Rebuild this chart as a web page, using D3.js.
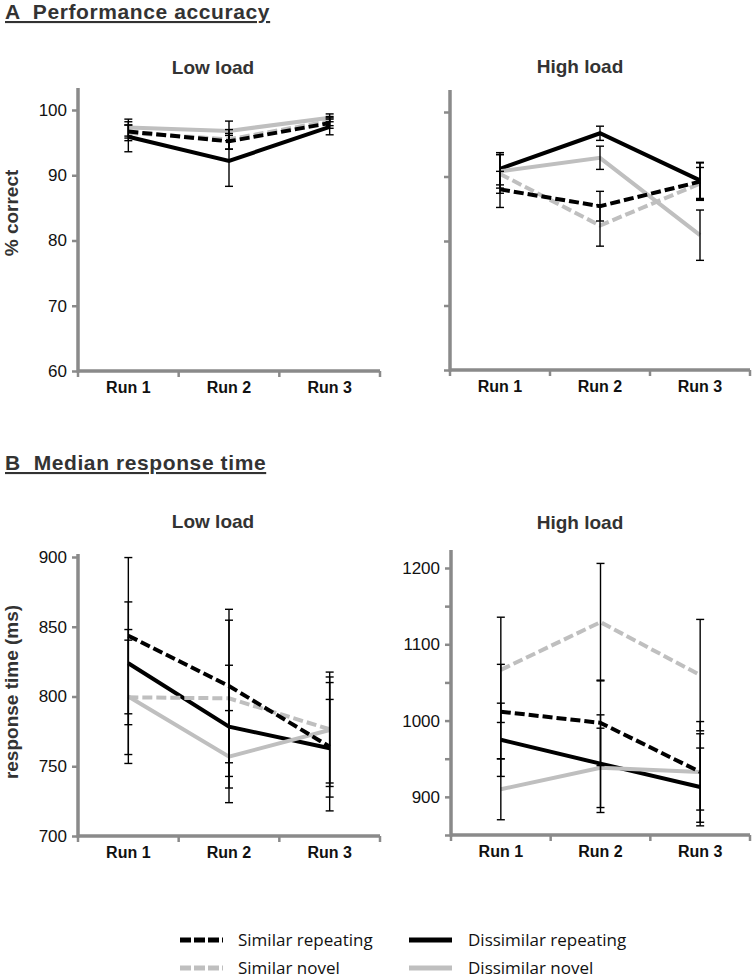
<!DOCTYPE html>
<meta charset="utf-8">
<script src="https://d3js.org/d3.v7.min.js"></script>
<style>
  body { margin: 0; background: #fff; }
</style>
<div id="chart"></div>
<script>
// Categories and series (rows of every data array follow seriesNames)
var runs = ["Run 1", "Run 2", "Run 3"];
var seriesNames = ["Similar repeating", "Similar novel", "Dissimilar repeating", "Dissimilar novel"];

// A  Performance accuracy (% correct), mean and error
var accLow     = [[96.7, 95.2, 98.0], [96.5, 95.5, 98.3], [95.9, 92.2, 97.4], [97.3, 96.8, 98.8]];
var accLowErr  = [[1.0, 1.2, 0.8], [1.2, 1.5, 0.7], [2.3, 3.9, 1.2], [1.3, 1.5, 0.6]];
var accHigh    = [[88.0, 85.4, 89.2], [90.4, 82.4, 88.9], [91.2, 96.7, 89.4], [90.8, 92.9, 80.9]];
var accHighErr = [[2.8, 2.3, 2.9], [3.0, 3.2, 2.5], [2.5, 1.1, 2.8], [2.6, 1.8, 3.9]];

// B  Median response time (ms), mean and error
var rtLow     = [[843.6, 807.5, 764], [799.4, 798.7, 776.5], [823.8, 778.4, 762.9], [800, 756.9, 776]];
var rtLowErr  = [[56, 55, 46], [41, 56, 41], [44, 44, 35], [48, 33, 38]];
var rtHigh    = [[1011.7, 997, 932.7], [1066.5, 1129, 1059.6], [974.8, 943.5, 913], [910, 938, 932.7]];
var rtHighErr = [[62, 56, 66], [69, 77, 73], [48, 64, 51], [40, 52, 50]];

// Tick values and labels
var accTicks = [60, 70, 80, 90, 100];
var rtLowTicks = [700, 750, 800, 850, 900];
var rtHighTicks = [850, 900, 950, 1000, 1050, 1100, 1150, 1200];
var rtHighLabels = [900, 1000, 1100, 1200];

// line styles, same order as seriesNames
var lineStyles = [
  {color: "#000", dash: "10,4"},
  {color: "#bfbfbf", dash: "10,4"},
  {color: "#000", dash: null},
  {color: "#bfbfbf", dash: null}
];
var drawOrder = [2, 3, 1, 0];
var axisColor = "#8a8a8a";
var textColor = "#333";

var svg = d3.select("#chart")
  .append("svg")
    .attr("width", 753)
    .attr("height", 978);

function drawPanel(p) {
  var x = d3.scaleBand().domain(runs).range([p.left, p.right]);
  var y = d3.scaleLinear().domain(p.domain).range([p.bottom, p.top]);
  var g = svg.append("g");

  // Y axis ticks and labels
  var yAxis = g.append("g")
    .attr("transform", "translate(" + p.left + ",0)")
    .call(d3.axisLeft(y).tickValues(p.ticks).tickSize(6).tickPadding(5)
      .tickFormat(function(d) { return p.labels.indexOf(d) >= 0 ? d : ""; }));
  yAxis.select(".domain").remove();
  yAxis.selectAll(".tick line").attr("stroke", axisColor).attr("stroke-width", 2.5);
  yAxis.selectAll(".tick text")
    .style("font-family", "'Liberation Sans', Arial, sans-serif")
    .style("font-size", "17px")
    .attr("fill", "#111");

  // X axis labels
  var xAxis = g.append("g")
    .attr("transform", "translate(0," + p.bottom + ")")
    .call(d3.axisBottom(x).tickSize(0).tickPadding(11));
  xAxis.select(".domain").remove();
  xAxis.selectAll(".tick text")
    .style("font-family", "'Liberation Sans', Arial, sans-serif")
    .style("font-size", "16px")
    .style("font-weight", "bold")
    .attr("fill", "#111");

  // x ticks at category boundaries
  var bounds = [p.left].concat(runs.map(function(r) { return x(r) + x.bandwidth(); }));
  g.selectAll(".xb")
    .data(bounds)
    .enter()
    .append("line")
      .attr("x1", function(d) { return d; })
      .attr("x2", function(d) { return d; })
      .attr("y1", p.bottom)
      .attr("y2", p.bottom + 6)
      .attr("stroke", axisColor)
      .attr("stroke-width", 2.5);

  // axis lines
  g.append("line")
    .attr("x1", p.left).attr("x2", p.left)
    .attr("y1", p.axisTop).attr("y2", p.bottom + 1.5)
    .attr("stroke", axisColor).attr("stroke-width", 3.5);
  g.append("line")
    .attr("x1", p.left).attr("x2", p.right)
    .attr("y1", p.bottom).attr("y2", p.bottom)
    .attr("stroke", axisColor).attr("stroke-width", 3.5);

  // title
  g.append("text")
    .attr("x", p.titleX)
    .attr("y", p.titleY)
    .attr("text-anchor", "middle")
    .style("font-family", "'Liberation Sans', Arial, sans-serif")
    .style("font-size", "19px")
    .style("font-weight", "bold")
    .attr("fill", textColor)
    .text(p.title);

  var cx = function(i) { return x(runs[i]) + x.bandwidth() / 2; };
  var line = d3.line()
    .x(function(d, i) { return cx(i); })
    .y(function(d) { return y(d); });

  // series lines
  drawOrder.forEach(function(s) {
    g.append("path")
      .datum(p.values[s])
      .attr("d", line)
      .attr("fill", "none")
      .attr("stroke", lineStyles[s].color)
      .attr("stroke-width", 4)
      .attr("stroke-dasharray", lineStyles[s].dash);
  });

  // error bars
  drawOrder.forEach(function(s) {
    p.values[s].forEach(function(v, i) {
      var e = p.errors[s][i];
      var eg = g.append("g").attr("stroke", "#000").attr("stroke-width", 1.4);
      eg.append("line")
        .attr("x1", cx(i)).attr("x2", cx(i))
        .attr("y1", y(v - e)).attr("y2", y(v + e));
      [v - e, v + e].forEach(function(c) {
        eg.append("line")
          .attr("x1", cx(i) - 4).attr("x2", cx(i) + 4)
          .attr("y1", y(c)).attr("y2", y(c));
      });
    });
  });
}

// section headings
function heading(txt, yPos) {
  svg.append("text")
    .attr("x", 5)
    .attr("y", yPos)
    .style("font-family", "'Liberation Sans', Arial, sans-serif")
    .style("font-size", "21px")
    .style("font-weight", "bold")
    .style("letter-spacing", "0.6px")
    .style("text-decoration", "underline")
    .style("white-space", "pre")
    .attr("fill", textColor)
    .text(txt);
}
heading("A  Performance accuracy", 19);
heading("B  Median response time", 470);

// y axis titles
function yTitle(txt, xPos, yPos) {
  svg.append("text")
    .attr("transform", "translate(" + xPos + "," + yPos + ") rotate(-90)")
    .attr("text-anchor", "middle")
    .style("font-family", "'Liberation Sans', Arial, sans-serif")
    .style("font-size", "19px")
    .style("font-weight", "bold")
    .attr("fill", textColor)
    .text(txt);
}
yTitle("% correct", 18, 213);
yTitle("response time (ms)", 18, 692);

drawPanel({left: 78, right: 380, top: 110, bottom: 371, axisTop: 88, domain: [60, 100],
  ticks: accTicks, labels: accTicks, values: accLow, errors: accLowErr,
  title: "Low load", titleX: 213, titleY: 74});
drawPanel({left: 450, right: 750, top: 112, bottom: 370, axisTop: 90, domain: [60, 100],
  ticks: accTicks, labels: [], values: accHigh, errors: accHighErr,
  title: "High load", titleX: 580, titleY: 73});
drawPanel({left: 78, right: 380, top: 557, bottom: 836, axisTop: 554, domain: [700, 900],
  ticks: rtLowTicks, labels: rtLowTicks, values: rtLow, errors: rtLowErr,
  title: "Low load", titleX: 213, titleY: 528});
drawPanel({left: 451, right: 750, top: 568, bottom: 835, axisTop: 550, domain: [850, 1200],
  ticks: rtHighTicks, labels: rtHighLabels, values: rtHigh, errors: rtHighErr,
  title: "High load", titleX: 580, titleY: 529});

// legend
var legendPos = [
  {x: 180, y: 940, tx: 238},
  {x: 180, y: 968, tx: 238},
  {x: 409, y: 940, tx: 468},
  {x: 409, y: 968, tx: 468}
];
seriesNames.forEach(function(name, s) {
  var lp = legendPos[s];
  svg.append("line")
    .attr("x1", lp.x).attr("x2", lp.x + 43)
    .attr("y1", lp.y).attr("y2", lp.y)
    .attr("stroke", lineStyles[s].color)
    .attr("stroke-width", 5)
    .attr("stroke-dasharray", lineStyles[s].dash ? "11,3" : null);
  svg.append("text")
    .attr("x", lp.tx)
    .attr("y", lp.y + 6)
    .style("font-family", "'Open Sans', sans-serif")
    .style("font-size", "17px")
    .attr("fill", "#111")
    .text(name);
});
</script>
